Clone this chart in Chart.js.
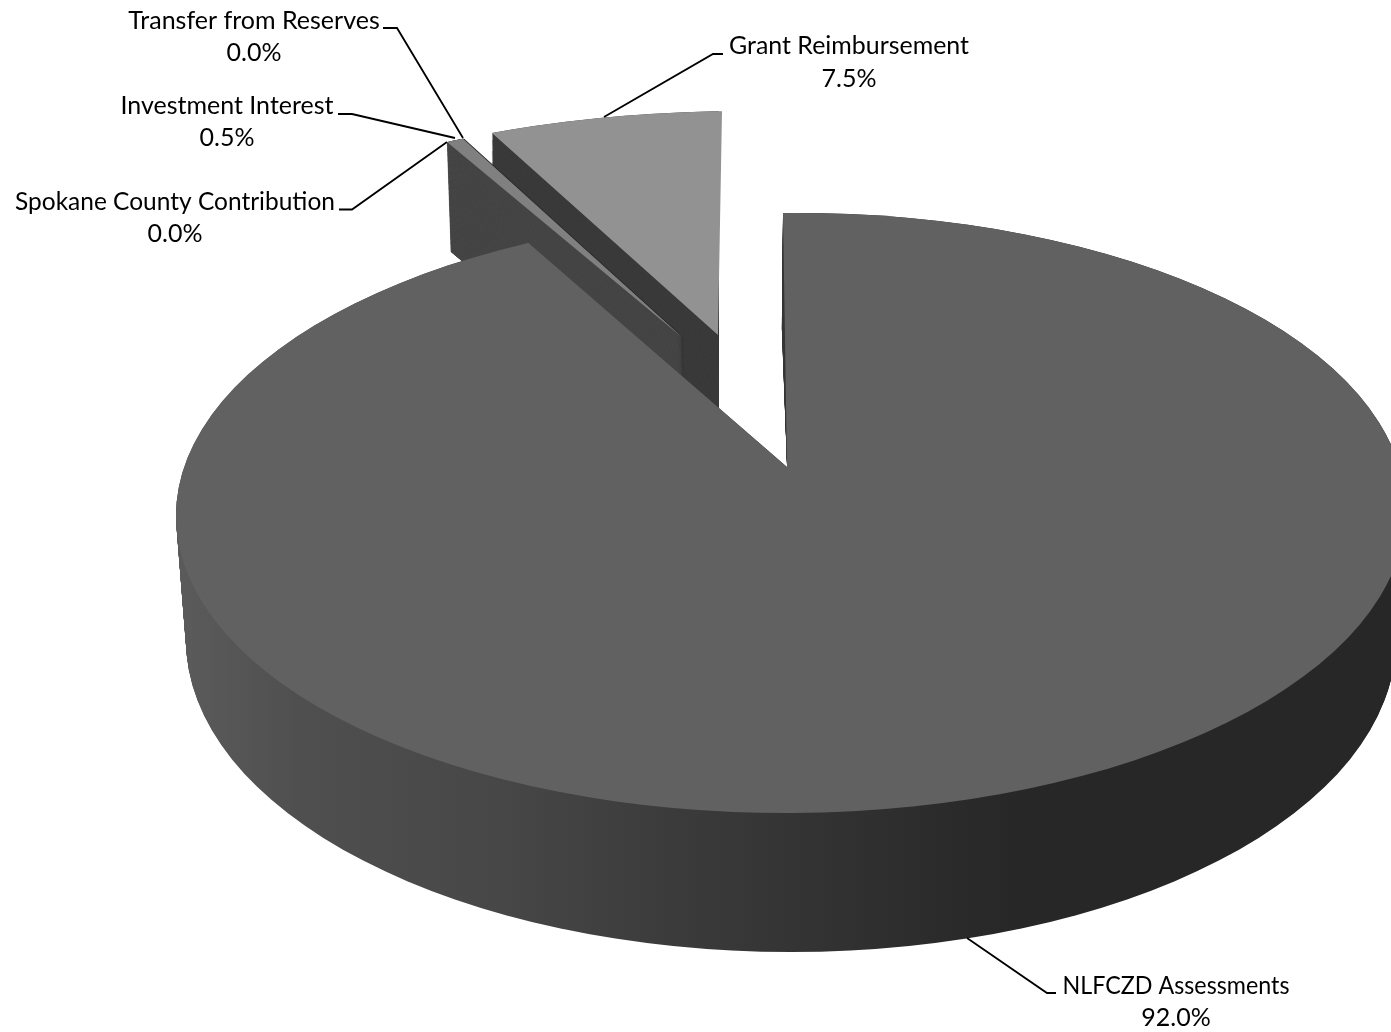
<!DOCTYPE html>
<html>
<head>
<meta charset="utf-8">
<title>Revenue</title>
<script src="https://cdn.jsdelivr.net/npm/chart.js@4"></script>
<style>
  html, body { margin: 0; padding: 0; background: #fff; overflow: hidden; }
  canvas { display: block; }
</style>
</head>
<body>
<canvas id="chart_revenue" width="1391" height="1032"></canvas>
<script>
var categories = [
  'NLFCZD Assessments',
  'Spokane County Contribution',
  'Investment Interest',
  'Transfer from Reserves',
  'Grant Reimbursement'
];
var shares = [92.0, 0.0, 0.5, 0.0, 7.5];

// flat colour of each slice's top face
var sliceColors = ['#616161', '#616161', '#808080', '#616161', '#929292'];

// main wall shading, left to right across the picture
var wallShadeX = [190, 300, 500, 660, 810, 960, 1020];
var wallShades = ['#5a5a5a', '#4f4f4f', '#474747', '#3c3c3c', '#333333', '#2a2a2a', '#272727'];

// how each exploded slice sits in the fake 3D view: top face and bottom face.
// apex = point of the wedge, p1/p2 = rim ends of its two cut edges, rim = ellipse of the outer edge
var views = {
  0: {
    top: { ax: 787, ay: 467, p1: [783, 213], p2: [525, 240], rim: [791, 513, 615, 300, -0.006] },
    bottom: { ax: 791, ay: 570, p1: [781.5, 320], p2: [525, 340], rim: [791, 640, 605, 312, 0] },
    wall: null, density: 1
  },
  2: {
    top: { ax: 683, ay: 338, p1: [447, 142], p2: [462, 138], rim: [745, 361, 617, 250, 0] },
    bottom: { ax: 685, ay: 448, p1: [451, 252], p2: [466, 248], rim: [748, 471, 617, 250, 0] },
    wall: '#474747', edge: '#2a2a2a', density: 6
  },
  4: {
    top: { ax: 718, ay: 335, p1: [492, 133], p2: [722, 112], rim: [745, 361, 617, 250, 0] },
    wallFrom: { ax: 718, ay: 335, p1: [492, 133], p2: [719, 112], rim: [745, 361, 617, 250, 0] },
    bottom: { ax: 719, ay: 445, p1: [492, 243], p2: [718, 222], rim: [745, 471, 617, 250, 0] },
    wall: '#3a3a3a', density: 1
  }
};
var drawOrder = [4, 2, 0];

// label centre, fitted text width, line gap, then the leader line
var callouts = [
  { x: 1176, y: 986, w: 227, gap: 32, line: [[1056, 993], [1047, 993], [967, 938]] },
  { x: 175, y: 202, w: 320, gap: 32, line: [[339, 209.5], [352, 209.5], [447, 142]] },
  { x: 227, y: 106, w: 213, gap: 32, line: [[338, 114], [352, 114], [455, 138]] },
  { x: 254, y: 21, w: 252, gap: 32, line: [[383, 28], [397, 28], [463, 138]] },
  { x: 849, y: 46, w: 240, gap: 33, line: [[723, 54], [713, 54], [604, 117]] }
];

function mix(a, b, t) {
  return a + (b - a) * t;
}

function mixView(a, b, t) {
  return {
    ax: mix(a.ax, b.ax, t),
    ay: mix(a.ay, b.ay, t),
    p1: [mix(a.p1[0], b.p1[0], t), mix(a.p1[1], b.p1[1], t)],
    p2: [mix(a.p2[0], b.p2[0], t), mix(a.p2[1], b.p2[1], t)],
    rim: a.rim.map(function (v, i) { return mix(v, b.rim[i], t); })
  };
}

// matrix taking the arc's two cut edges on to the view's edges
function arcMatrix(arc, v) {
  var ux = Math.cos(arc.startAngle) * arc.outerRadius, uy = Math.sin(arc.startAngle) * arc.outerRadius;
  var wx = Math.cos(arc.endAngle) * arc.outerRadius, wy = Math.sin(arc.endAngle) * arc.outerRadius;
  var px = (v.p1[0] - v.ax) * 2, py = (v.p1[1] - v.ay) * 2;
  var qx = (v.p2[0] - v.ax) * 2, qy = (v.p2[1] - v.ay) * 2;
  var det = ux * wy - wx * uy;
  var a = (px * wy - qx * uy) / det, c = (qx * ux - px * wx) / det;
  var b = (py * wy - qy * uy) / det, d = (qy * ux - py * wx) / det;
  return { a: a, b: b, c: c, d: d, e: v.ax - a * arc.x - c * arc.y, f: v.ay - b * arc.x - d * arc.y };
}

// horizontal screen gradient, expressed in the arc's own coordinates
function wallGradient(ctx, m) {
  var det = m.a * m.d - m.b * m.c;
  var x0 = wallShadeX[0], x1 = wallShadeX[wallShadeX.length - 1];
  var lx = (m.d * (x0 - m.e) - m.c * (500 - m.f)) / det;
  var ly = (-m.b * (x0 - m.e) + m.a * (500 - m.f)) / det;
  var k = (x1 - x0) / (m.a * m.a + m.c * m.c);
  var g = ctx.createLinearGradient(lx, ly, lx + m.a * k, ly + m.c * k);
  wallShades.forEach(function (shade, i) {
    g.addColorStop((wallShadeX[i] - x0) / (x1 - x0), shade);
  });
  return g;
}

function paintArc(ctx, arc, v, fill) {
  var m = arcMatrix(arc, v);
  var saved = arc.options;
  ctx.save();
  ctx.beginPath();
  ctx.ellipse(v.rim[0], v.rim[1], v.rim[2], v.rim[3], v.rim[4], 0, Math.PI * 2);
  ctx.clip();
  ctx.transform(m.a, m.b, m.c, m.d, m.e, m.f);
  arc.options = Object.assign({}, saved, { backgroundColor: fill || wallGradient(ctx, m), borderWidth: 0 });
  arc.draw(ctx);
  arc.options = saved;
  ctx.restore();
}

function paintWall(ctx, arc, view, fill, nudge, density) {
  var from = view.wallFrom || view.top;
  var steps = (Math.ceil(view.bottom.ay - from.ay) + 40) * density;
  for (var i = steps; i >= 0; i--) {
    var v = mixView(from, view.bottom, i / steps);
    if (nudge) {
      v.ax += nudge;
      v.p1[0] += nudge;
      v.p2[0] += nudge;
    }
    paintArc(ctx, arc, v, fill);
  }
}

var pie3d = {
  id: 'pie3d',
  beforeDatasetDraw: function (chart) {
    var ctx = chart.ctx;
    var arcs = chart.getDatasetMeta(0).data;
    drawOrder.forEach(function (idx) {
      var view = views[idx];
      if (view.edge) paintWall(ctx, arcs[idx], view, view.edge, 1.4, 1);
      paintWall(ctx, arcs[idx], view, view.wall, 0, view.density);
      paintArc(ctx, arcs[idx], view.top, sliceColors[idx]);
    });
    return false;
  },
  afterDraw: function (chart) {
    var ctx = chart.ctx;
    ctx.save();
    ctx.font = '25px Lato';
    ctx.textAlign = 'center';
    ctx.textBaseline = 'middle';
    ctx.fillStyle = '#000';
    ctx.strokeStyle = '#000';
    ctx.lineWidth = 1.8;
    callouts.forEach(function (c, i) {
      ctx.fillText(categories[i], c.x, c.y, c.w);
      ctx.fillText(shares[i].toFixed(1) + '%', c.x, c.y + c.gap);
      ctx.beginPath();
      c.line.forEach(function (pt, n) {
        if (n === 0) ctx.moveTo(pt[0], pt[1]);
        else ctx.lineTo(pt[0], pt[1]);
      });
      ctx.stroke();
    });
    ctx.restore();
  }
};

new Chart(document.getElementById('chart_revenue'), {
  type: 'pie',
  data: {
    labels: categories,
    datasets: [{
      data: shares,
      backgroundColor: sliceColors,
      borderWidth: 0
    }]
  },
  options: {
    responsive: false,
    animation: false,
    rotation: -0.43,
    plugins: {
      legend: { display: false },
      tooltip: { enabled: false }
    }
  },
  plugins: [pie3d]
});
</script>
</body>
</html>
